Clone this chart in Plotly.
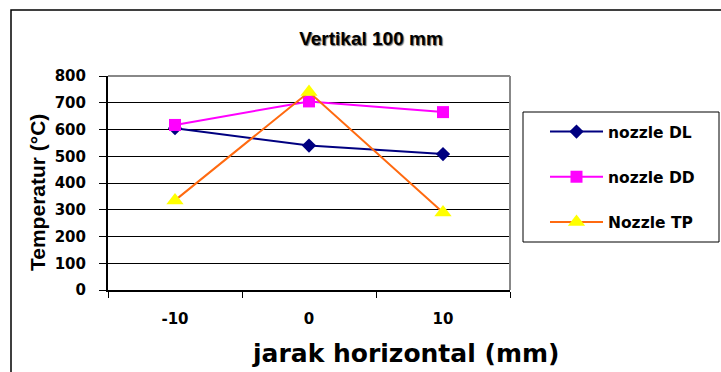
import plotly.graph_objects as go

# Horizontal distance categories (mm) and measured temperatures (°C)
jarak = ["-10", "0", "10"]
nozzle_dl = [605, 540, 508]
nozzle_dd = [617, 705, 665]
nozzle_tp = [335, 740, 290]

y_ticks = [0, 100, 200, 300, 400, 500, 600, 700, 800]

# plotting-area geometry in pixels
PL, PR, PT, PB = 108, 510, 76, 290
PW, PH = PR - PL, PB - PT


def px_x(x):
    return (x - PL) / PW


def px_y(y):
    return (PB - y) / PH


TICK_FONT = dict(family="DejaVu Sans", size=15, color="black", weight="bold")

fig = go.Figure()

fig.add_trace(go.Scatter(
    x=jarak, y=nozzle_dl, name="nozzle DL", mode="lines+markers",
    line=dict(color="#000080", width=2),
    marker=dict(symbol="diamond", size=11, color="#000080"),
    legendgroup="dl",
))
fig.add_trace(go.Scatter(
    x=jarak, y=nozzle_dd, name="nozzle DD", mode="lines+markers",
    line=dict(color="#FF00FF", width=2),
    marker=dict(symbol="square", size=12, color="#FF00FF"),
    legendgroup="dd",
))
fig.add_trace(go.Scatter(
    x=jarak, y=nozzle_tp, name="Nozzle TP", mode="lines+markers",
    line=dict(color="#FF6A10", width=2),
    marker=dict(symbol="triangle-up", size=15, color="#FFFF00"),
    legendgroup="tp",
))

fig.update_layout(
    width=721, height=372,
    margin=dict(l=PL, r=721 - PR, t=PT, b=372 - PB),
    paper_bgcolor="white", plot_bgcolor="white",
    title=dict(
        text="Vertikal 100 mm",
        font=dict(family="Liberation Sans", size=19, color="black", weight="bold",
                  shadow="1px 1px 1px #666"),
        xref="paper", x=px_x(371), xanchor="center",
        yref="container", y=1 - 38 / 372, yanchor="middle",
    ),
    showlegend=True,
    legend=dict(
        x=px_x(545), xanchor="left",
        y=px_y(115), yanchor="top",
        borderwidth=0, bgcolor="rgba(0,0,0,0)",
        font=dict(family="DejaVu Sans", size=15.5, color="black", weight="bold"),
        tracegroupgap=22, traceorder="grouped",
        itemwidth=53,
    ),
    xaxis=dict(
        type="category", tickson="boundaries", range=[-0.5, 2.5],
        ticks="outside", ticklen=6, tickcolor="black", tickwidth=1,
        showline=True, linecolor="black", linewidth=2,
        showgrid=False, zeroline=False,
        tickfont=TICK_FONT, ticklabelstandoff=14,
    ),
    yaxis=dict(
        range=[0, 800], tickvals=y_ticks,
        ticks="outside", ticklen=7, tickcolor="black", tickwidth=1,
        showline=True, linecolor="black", linewidth=2,
        showgrid=True, gridcolor="black", gridwidth=1, zeroline=False,
        tickfont=TICK_FONT, ticklabelstandoff=10,
    ),
    annotations=[
        dict(text="jarak horizontal (mm)", xref="paper", yref="paper",
             x=px_x(405), y=px_y(353), xanchor="center", yanchor="middle",
             showarrow=False,
             font=dict(family="DejaVu Sans", size=25, color="black", weight="bold")),
        dict(text="Temperatur (°C)", xref="paper", yref="paper",
             x=px_x(37), y=px_y(193), xanchor="center", yanchor="middle",
             textangle=-90, showarrow=False,
             font=dict(family="Liberation Sans", size=21, color="black", weight="bold")),
    ],
    shapes=[
        # grey top and right edges of the plotting area
        dict(type="line", xref="paper", yref="paper", x0=0, x1=1, y0=1, y1=1,
             line=dict(color="#888888", width=2), layer="above"),
        dict(type="line", xref="paper", yref="paper", x0=1, x1=1, y0=0, y1=1,
             line=dict(color="#888888", width=2), layer="above"),
        # legend frame
        dict(type="rect", xref="paper", yref="paper",
             x0=px_x(523), x1=px_x(719), y0=px_y(242), y1=px_y(112),
             line=dict(color="black", width=1), layer="below"),
        # outer chart frame
        dict(type="rect", xref="paper", yref="paper",
             x0=px_x(11), x1=px_x(740), y0=px_y(400), y1=px_y(10),
             line=dict(color="black", width=1.5), layer="below"),
    ],
)

fig.write_html("out.html")
